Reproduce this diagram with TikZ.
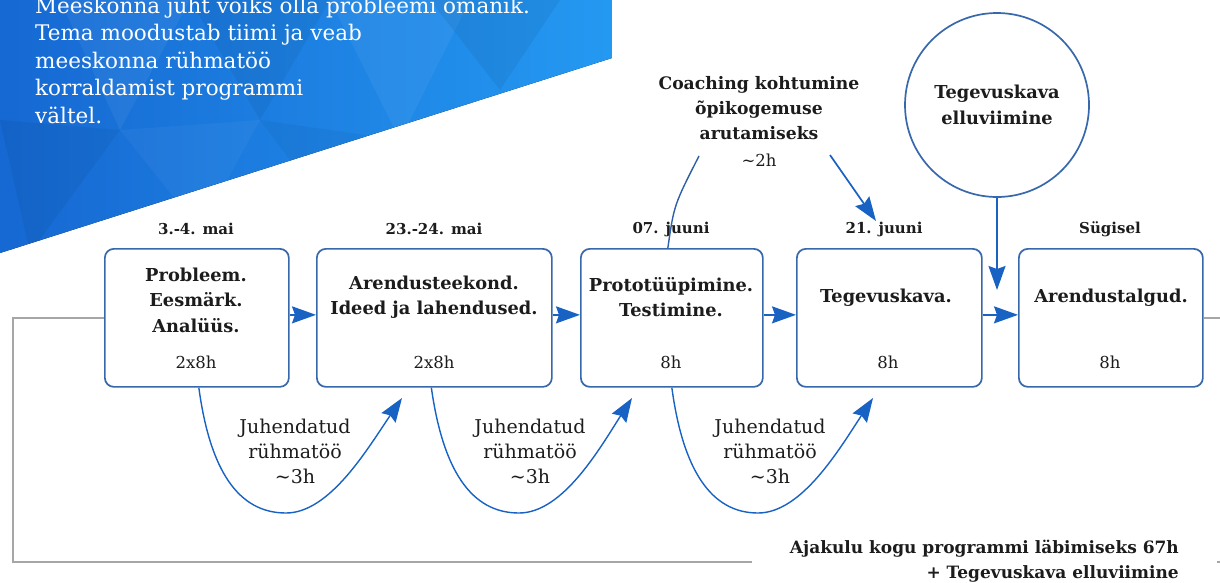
\documentclass[tikz,border=0pt]{standalone}
\usepackage{fontspec}
\setmainfont{DejaVu Serif}
\usetikzlibrary{arrows.meta}
\definecolor{boxblue}{HTML}{3868AC}
\definecolor{arrblue}{HTML}{1862C4}
\definecolor{curveblue}{HTML}{2E60A8}
\definecolor{loopgray}{HTML}{A6A6A6}
\definecolor{bannerL}{HTML}{1668D2}
\definecolor{bannerR}{HTML}{2499F2}
\definecolor{txt}{HTML}{1C1C1C}
\begin{document}
\begin{tikzpicture}[x=1pt,y=-1pt,
  stepbox/.style={draw=boxblue, line width=1.7pt, rounded corners=9pt, fill=white,
    minimum height=138pt, anchor=north west, inner sep=0pt},
  title/.style={text=txt, align=center, font={\fontsize{17.8}{25.5}\selectfont\bfseries}},
  hours/.style={text=txt, font={\fontsize{16.5}{20}\selectfont}},
  datelbl/.style={text=txt, font={\fontsize{15}{18}\selectfont\bfseries}},
  guided/.style={text=txt, align=center, font={\fontsize{19}{25}\selectfont}},
  tipstyle/.style={-{Stealth[length=24pt,width=17pt,inset=3pt]}},
  arr/.style={draw=arrblue, line width=1.7pt, tipstyle},
  curv/.style={draw=curveblue, line width=1.4pt},
  curvarr/.style={curv, tipstyle, arrblue},
  loopline/.style={draw=loopgray, line width=1.7pt}
]
\useasboundingbox (0,0) rectangle (1220,582);
\clip (0,0) rectangle (1220,582);
\fill[white] (0,0) rectangle (1220,582);

% banner
\begin{scope}
\clip (0,0) -- (612,0) -- (612,58) -- (0,253) -- cycle;
\fill[left color=bannerL, right color=bannerR] (0,0) rectangle (612,253);
\fill[white, opacity=0.05] (60,0) -- (190,0) -- (120,130) -- cycle;
\fill[black, opacity=0.05] (190,0) -- (330,0) -- (260,120) -- cycle;
\fill[white, opacity=0.05] (330,0) -- (470,0) -- (400,140) -- cycle;
\fill[black, opacity=0.06] (430,0) -- (560,0) -- (500,90) -- cycle;
\fill[black, opacity=0.05] (0,120) -- (120,130) -- (30,253) -- cycle;
\fill[white, opacity=0.04] (120,130) -- (260,120) -- (200,230) -- cycle;
\fill[black, opacity=0.04] (260,120) -- (400,140) -- (320,200) -- cycle;
\end{scope}
\node[text=white, align=left, anchor=west, inner sep=0pt,
  font={\fontsize{21.5}{27.5}\selectfont}] (bannertext) at (35,60)
  {Meeskonna juht võiks olla probleemi omanik.\\Tema moodustab tiimi ja veab\\meeskonna rühmatöö\\korraldamist programmi\\vältel.};

% gray loop
\coordinate (loopR) at (1236,562);
\coordinate (loopL) at (13,562);

% boxes
\node[stepbox, minimum width=184pt] (b1) at (104,248) {};
\node[stepbox, minimum width=235pt] (b2) at (316,248) {};
\node[stepbox, minimum width=182pt] (b3) at (580,248) {};
\node[stepbox, minimum width=185pt] (b4) at (796,248) {};
\node[stepbox, minimum width=184pt] (b5) at (1018,248) {};

\draw[loopline] (b5.east) -| (loopR) -- (loopL) |- (b1.west);

% dates
\node[datelbl] (d1) at (196,229) {3.-4. mai};
\node[datelbl] (d2) at (434,229) {23.-24. mai};
\node[datelbl] (d3) at (671,229) {07. juuni};
\node[datelbl] (d4) at (884,229) {21. juuni};
\node[datelbl] (d5) at (1110,229) {Sügisel};

% titles
\node[title] (t1) at (196,300) {Probleem.\\Eesmärk.\\Analüüs.};
\node[title] (t2) at (434,297) {Arendusteekond.\\Ideed ja lahendused.};
\node[title] (t3) at (671,297) {Prototüüpimine.\\Testimine.};
\node[title] (t4) at (886,298) {Tegevuskava.};
\node[title] (t5) at (1111,298) {Arendustalgud.};

% hours
\node[hours] (h1) at (196,362) {2x8h};
\node[hours] (h2) at (434,362) {2x8h};
\node[hours] (h3) at (671,362) {8h};
\node[hours] (h4) at (888,362) {8h};
\node[hours] (h5) at (1110,362) {8h};

% main arrows
\draw[arr] ([yshift=3pt]b1.east) -- ([yshift=3pt]b2.west);
\draw[arr] ([yshift=3pt]b2.east) -- ([yshift=3pt]b3.west);
\draw[arr] ([yshift=3pt]b3.east) -- ([yshift=3pt]b4.west);
\draw[arr] ([yshift=3pt]b4.east) -- ([yshift=3pt]b5.west);

% circle
\node[circle, draw=boxblue, line width=1.7pt, minimum size=184pt, inner sep=0pt,
  title] (circ) at (997,105) {Tegevuskava\\elluviimine};
\coordinate (ctip) at (997,290);
\draw[arr] (circ.south) -- (ctip);

% coaching
\node[title, font={\fontsize{17.2}{25}\selectfont\bfseries}] (coach) at (759,108)
  {Coaching kohtumine\\õpikogemuse\\arutamiseks};
\node[hours] (h2h) at (759,160) {\textasciitilde 2h};
\coordinate (cl) at (699,156);
\coordinate (cr) at (830,155);
\coordinate (ce) at (876,221);
\draw[curv] ([xshift=-4pt]b3.north) .. controls (674,205) .. (cl);
\draw[arr] (cr) -- (ce);

% guided curves
\coordinate (e1) at (402,398);
\coordinate (e2) at (632,398);
\coordinate (e3) at (873,398);
\draw[curvarr] ([xshift=2pt]b1.south) .. controls (210,470) and (238,513) .. (286,513)
  .. controls (330,513) and (368,448) .. (e1);
\draw[curvarr] ([xshift=-3pt]b2.south) .. controls (443,470) and (471,513) .. (519,513)
  .. controls (563,513) and (600,448) .. (e2);
\draw[curvarr] (b3.south) .. controls (683,470) and (711,513) .. (758,513)
  .. controls (802,513) and (840,448) .. (e3);
\node[guided] (j1) at (295,451) {Juhendatud\\rühmatöö\\\textasciitilde 3h};
\node[guided] (j2) at (530,451) {Juhendatud\\rühmatöö\\\textasciitilde 3h};
\node[guided] (j3) at (770,451) {Juhendatud\\rühmatöö\\\textasciitilde 3h};

% total
\node[title, font={\fontsize{17}{25}\selectfont\bfseries}, fill=white, align=right,
  anchor=east, inner xsep=38pt, inner ysep=1pt]
  (total) at (1217,561) {Ajakulu kogu programmi läbimiseks 67h\\+ Tegevuskava elluviimine};
\end{tikzpicture}
\end{document}
